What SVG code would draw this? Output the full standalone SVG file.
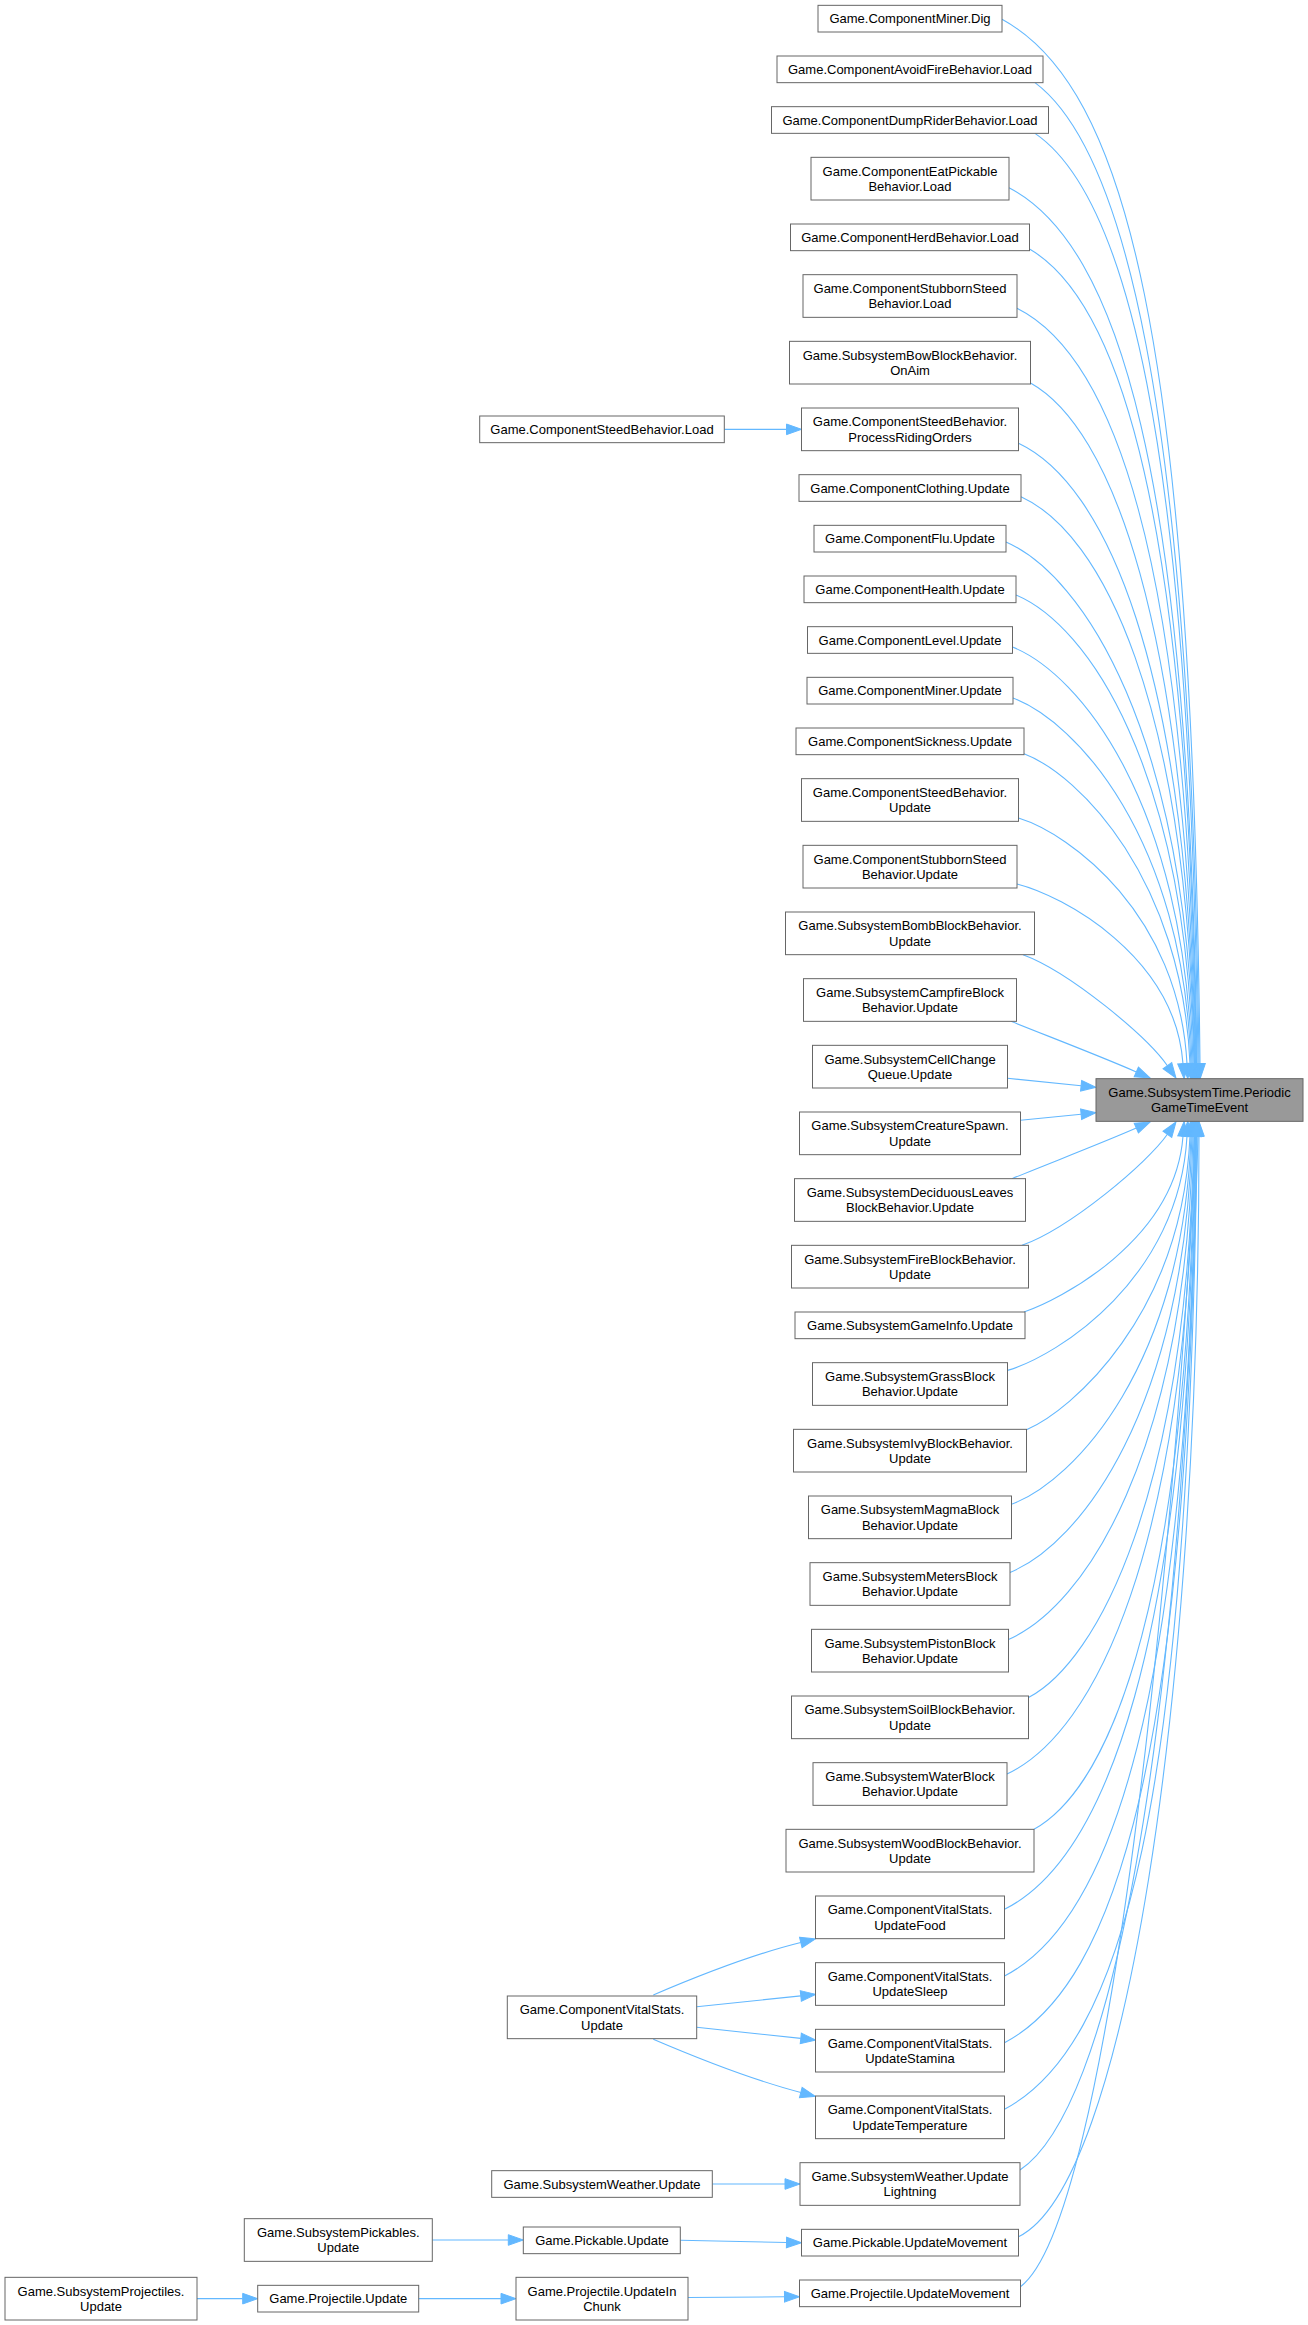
<svg xmlns="http://www.w3.org/2000/svg" width="1308" height="2325" viewBox="0 0 1308 2325">
<style>
.n rect{fill:#fff;stroke:#666;stroke-width:1}
.r rect{fill:#999;stroke:#666;stroke-width:1}
text{font-family:"Liberation Sans",Arial,Helvetica,sans-serif;font-size:13px;fill:#000;text-anchor:middle}
.e path{fill:none;stroke:#63B8FF;stroke-width:1.1;marker-end:url(#ah)}
</style>
<defs>
<marker id="ah" markerUnits="userSpaceOnUse" markerWidth="16" markerHeight="12" refX="0" refY="5.3" orient="auto" overflow="visible"><path d="M0,0 L15,5.3 L0,10.6 z" fill="#63B8FF" stroke="#63B8FF" stroke-width="1"/></marker>
</defs>
<rect width="1308" height="2325" fill="#fff"/>
<g id="edges" class="e">
<path d="M1002,19.3 C1126,87.2 1192,337.8 1200,1063.67"/>
<path d="M1035,82.67 C1120,146.5 1191,388.7 1199,1063.67"/>
<path d="M1035,133.33 C1123.7,193.8 1190,428.7 1198,1063.67"/>
<path d="M1009,187.7 C1117.8,244.6 1189,471.1 1197,1063.67"/>
<path d="M1029.5,249 C1120.5,302 1188.5,517.9 1196.5,1063.67"/>
<path d="M1017,308.3 C1115,357.4 1188,562.7 1196,1063.67"/>
<path d="M1030.5,383 C1109.8,427.2 1187.5,617.8 1195.5,1063.67"/>
<path d="M1018.5,443.3 C1104.3,483.6 1187,661.5 1195,1063.67"/>
<path d="M1021,496.7 C1102,533.6 1186.5,699.4 1194.5,1063.67"/>
<path d="M1006,542 C1083,575.9 1186,731.1 1194,1063.67"/>
<path d="M1016,595 C1088.2,625.5 1185,767.5 1193,1063.67"/>
<path d="M1012.5,647 C1080,674.1 1184,802.8 1192,1063.67"/>
<path d="M1013,698 C1075.9,721.8 1183,836.9 1191,1063.67"/>
<path d="M1024,753.8 C1080,775 1182,880 1190,1063.67"/>
<path d="M1018.5,818 C1070.6,834 1179,914.6 1187,1063.67"/>
<path d="M1017,884 C1063.2,895.7 1175,955.9 1183,1063.67"/>
<path d="M1023,954.67 C1070,972 1147.4,1037 1167.4,1065.7"/>
<path d="M1011,1021.33 C1050,1037 1100,1056 1136.3,1071.9"/>
<path d="M1007.5,1078.3 C1035,1081 1060,1083.6 1081.1,1085.8"/>
<path d="M1020.5,1120.3 C1045,1117.8 1065,1115.8 1081.1,1114.2"/>
<path d="M1012,1178.67 C1050,1163 1100,1144 1136.3,1128.1"/>
<path d="M1022,1245.33 C1070,1228 1147.4,1163 1167.4,1134.3"/>
<path d="M1024,1312 C1057.8,1300.6 1175,1241.5 1183,1136.33"/>
<path d="M1007.5,1370.4 C1058.8,1355.2 1179,1278.2 1187,1136.33"/>
<path d="M1026.5,1429.7 C1070.9,1410.6 1182,1315.9 1190,1136.33"/>
<path d="M1011.5,1504.3 C1075.1,1480.4 1183,1364.6 1191,1136.33"/>
<path d="M1010,1572.4 C1079.7,1544.1 1184,1410.2 1192,1136.33"/>
<path d="M1008.5,1639.4 C1084.3,1606.7 1185,1456 1193,1136.33"/>
<path d="M1028.5,1697.6 C1097.5,1661.1 1186,1496.6 1194,1136.33"/>
<path d="M1007,1774.1 C1094.9,1732.6 1186.5,1551.1 1194.5,1136.33"/>
<path d="M1034,1829.33 C1114.4,1784.3 1187,1590.9 1195,1136.33"/>
<path d="M1004.5,1909.3 C1104.6,1859.1 1187.5,1650.3 1195.5,1136.33"/>
<path d="M1004.5,1976 C1110.6,1921.4 1188,1701 1196,1136.33"/>
<path d="M1004.5,2042.7 C1116.6,1983.8 1188.5,1752.5 1196.5,1136.33"/>
<path d="M1004.5,2109.3 C1122.6,2046.1 1189,1804.8 1197,1136.33"/>
<path d="M1020,2170 C1110,2110 1180,1760 1198,1136.33"/>
<path d="M1018.5,2236.7 C1125,2185 1199,1700 1199,1136.33"/>
<path d="M1020.5,2286.7 C1110,2220 1175,1550 1196,1136.33"/>
<path d="M724.3,429.33 L786.5,429.33"/>
<path d="M653.3,1995 C700,1975 750,1955 800.8,1942.5"/>
<path d="M696.7,2006.7 L800.8,1995.9"/>
<path d="M696.7,2027.3 L800.8,2038.4"/>
<path d="M653.3,2039.3 C700,2059.3 750,2079.3 800.8,2092.5"/>
<path d="M712.3,2184 L785,2184"/>
<path d="M680.3,2240.3 L786.5,2242.5"/>
<path d="M688,2297.5 L784.5,2296.8"/>
<path d="M432.3,2240 L508.3,2240"/>
<path d="M197,2298.67 L242.7,2298.67"/>
<path d="M418.7,2298.67 L501,2298.67"/>
</g>
<g id="target" class="r"><rect x="1096" y="1078.67" width="207" height="42.67"/><text x="1199.5" y="1097">Game.SubsystemTime.Periodic</text><text x="1199.5" y="1112.3">GameTimeEvent</text></g>
<g id="n1" class="n"><rect x="818" y="5.33" width="184" height="26.67"/><text x="910" y="23.3">Game.ComponentMiner.Dig</text></g>
<g id="n2" class="n"><rect x="777" y="56" width="266" height="26.67"/><text x="910" y="74">Game.ComponentAvoidFireBehavior.Load</text></g>
<g id="n3" class="n"><rect x="771.5" y="106.67" width="277" height="26.67"/><text x="910" y="124.7">Game.ComponentDumpRiderBehavior.Load</text></g>
<g id="n4" class="n"><rect x="811" y="157.33" width="198" height="42.67"/><text x="910" y="175.6">Game.ComponentEatPickable</text><text x="910" y="190.9">Behavior.Load</text></g>
<g id="n5" class="n"><rect x="790.5" y="224" width="239" height="26.67"/><text x="910" y="242">Game.ComponentHerdBehavior.Load</text></g>
<g id="n6" class="n"><rect x="803" y="274.67" width="214" height="42.67"/><text x="910" y="293">Game.ComponentStubbornSteed</text><text x="910" y="308.3">Behavior.Load</text></g>
<g id="n7" class="n"><rect x="789.5" y="341.33" width="241" height="42.67"/><text x="910" y="359.6">Game.SubsystemBowBlockBehavior.</text><text x="910" y="374.9">OnAim</text></g>
<g id="n8" class="n"><rect x="801.5" y="408" width="217" height="42.67"/><text x="910" y="426.3">Game.ComponentSteedBehavior.</text><text x="910" y="441.6">ProcessRidingOrders</text></g>
<g id="n9" class="n"><rect x="799" y="474.67" width="222" height="26.67"/><text x="910" y="492.7">Game.ComponentClothing.Update</text></g>
<g id="n10" class="n"><rect x="814" y="525.33" width="192" height="26.67"/><text x="910" y="543.3">Game.ComponentFlu.Update</text></g>
<g id="n11" class="n"><rect x="804" y="576" width="212" height="26.67"/><text x="910" y="594">Game.ComponentHealth.Update</text></g>
<g id="n12" class="n"><rect x="807.5" y="626.67" width="205" height="26.67"/><text x="910" y="644.7">Game.ComponentLevel.Update</text></g>
<g id="n13" class="n"><rect x="807" y="677.33" width="206" height="26.67"/><text x="910" y="695.3">Game.ComponentMiner.Update</text></g>
<g id="n14" class="n"><rect x="796" y="728" width="228" height="26.67"/><text x="910" y="746">Game.ComponentSickness.Update</text></g>
<g id="n15" class="n"><rect x="801.5" y="778.67" width="217" height="42.67"/><text x="910" y="797">Game.ComponentSteedBehavior.</text><text x="910" y="812.3">Update</text></g>
<g id="n16" class="n"><rect x="803" y="845.33" width="214" height="42.67"/><text x="910" y="863.6">Game.ComponentStubbornSteed</text><text x="910" y="878.9">Behavior.Update</text></g>
<g id="n17" class="n"><rect x="785.5" y="912" width="249" height="42.67"/><text x="910" y="930.3">Game.SubsystemBombBlockBehavior.</text><text x="910" y="945.6">Update</text></g>
<g id="n18" class="n"><rect x="803.5" y="978.67" width="213" height="42.67"/><text x="910" y="997">Game.SubsystemCampfireBlock</text><text x="910" y="1012.3">Behavior.Update</text></g>
<g id="n19" class="n"><rect x="812.5" y="1045.33" width="195" height="42.67"/><text x="910" y="1063.6">Game.SubsystemCellChange</text><text x="910" y="1078.9">Queue.Update</text></g>
<g id="n20" class="n"><rect x="799.5" y="1112" width="221" height="42.67"/><text x="910" y="1130.3">Game.SubsystemCreatureSpawn.</text><text x="910" y="1145.6">Update</text></g>
<g id="n21" class="n"><rect x="794.5" y="1178.67" width="231" height="42.67"/><text x="910" y="1197">Game.SubsystemDeciduousLeaves</text><text x="910" y="1212.3">BlockBehavior.Update</text></g>
<g id="n22" class="n"><rect x="791.5" y="1245.33" width="237" height="42.67"/><text x="910" y="1263.6">Game.SubsystemFireBlockBehavior.</text><text x="910" y="1278.9">Update</text></g>
<g id="n23" class="n"><rect x="795" y="1312" width="230" height="26.67"/><text x="910" y="1330">Game.SubsystemGameInfo.Update</text></g>
<g id="n24" class="n"><rect x="812.5" y="1362.67" width="195" height="42.67"/><text x="910" y="1381">Game.SubsystemGrassBlock</text><text x="910" y="1396.3">Behavior.Update</text></g>
<g id="n25" class="n"><rect x="793.5" y="1429.33" width="233" height="42.67"/><text x="910" y="1447.6">Game.SubsystemIvyBlockBehavior.</text><text x="910" y="1462.9">Update</text></g>
<g id="n26" class="n"><rect x="808.5" y="1496" width="203" height="42.67"/><text x="910" y="1514.3">Game.SubsystemMagmaBlock</text><text x="910" y="1529.6">Behavior.Update</text></g>
<g id="n27" class="n"><rect x="810" y="1562.67" width="200" height="42.67"/><text x="910" y="1581">Game.SubsystemMetersBlock</text><text x="910" y="1596.3">Behavior.Update</text></g>
<g id="n28" class="n"><rect x="811.5" y="1629.33" width="197" height="42.67"/><text x="910" y="1647.6">Game.SubsystemPistonBlock</text><text x="910" y="1662.9">Behavior.Update</text></g>
<g id="n29" class="n"><rect x="791.5" y="1696" width="237" height="42.67"/><text x="910" y="1714.3">Game.SubsystemSoilBlockBehavior.</text><text x="910" y="1729.6">Update</text></g>
<g id="n30" class="n"><rect x="813" y="1762.67" width="194" height="42.67"/><text x="910" y="1781">Game.SubsystemWaterBlock</text><text x="910" y="1796.3">Behavior.Update</text></g>
<g id="n31" class="n"><rect x="786" y="1829.33" width="248" height="42.67"/><text x="910" y="1847.6">Game.SubsystemWoodBlockBehavior.</text><text x="910" y="1862.9">Update</text></g>
<g id="n32" class="n"><rect x="815.5" y="1896" width="189" height="42.67"/><text x="910" y="1914.3">Game.ComponentVitalStats.</text><text x="910" y="1929.6">UpdateFood</text></g>
<g id="n33" class="n"><rect x="815.5" y="1962.67" width="189" height="42.67"/><text x="910" y="1981">Game.ComponentVitalStats.</text><text x="910" y="1996.3">UpdateSleep</text></g>
<g id="n34" class="n"><rect x="815.5" y="2029.33" width="189" height="42.67"/><text x="910" y="2047.6">Game.ComponentVitalStats.</text><text x="910" y="2062.9">UpdateStamina</text></g>
<g id="n35" class="n"><rect x="815.5" y="2096" width="189" height="42.67"/><text x="910" y="2114.3">Game.ComponentVitalStats.</text><text x="910" y="2129.6">UpdateTemperature</text></g>
<g id="n36" class="n"><rect x="800" y="2162.67" width="220" height="42.67"/><text x="910" y="2181">Game.SubsystemWeather.Update</text><text x="910" y="2196.3">Lightning</text></g>
<g id="n37" class="n"><rect x="801.5" y="2229.33" width="217" height="26.67"/><text x="910" y="2247.3">Game.Pickable.UpdateMovement</text></g>
<g id="n38" class="n"><rect x="799.5" y="2280" width="221" height="26.67"/><text x="910" y="2298">Game.Projectile.UpdateMovement</text></g>
<g id="n39" class="n"><rect x="479.7" y="416" width="244.6" height="26.67"/><text x="602" y="434">Game.ComponentSteedBehavior.Load</text></g>
<g id="n40" class="n"><rect x="507.3" y="1996" width="189.4" height="42.67"/><text x="602" y="2014.3">Game.ComponentVitalStats.</text><text x="602" y="2029.6">Update</text></g>
<g id="n41" class="n"><rect x="491.7" y="2170.67" width="220.6" height="26.67"/><text x="602" y="2188.7">Game.SubsystemWeather.Update</text></g>
<g id="n42" class="n"><rect x="523.3" y="2227" width="157" height="26.67"/><text x="602" y="2245">Game.Pickable.Update</text></g>
<g id="n43" class="n"><rect x="516" y="2277.33" width="172" height="42.67"/><text x="602" y="2295.6">Game.Projectile.UpdateIn</text><text x="602" y="2310.9">Chunk</text></g>
<g id="n44" class="n"><rect x="244.3" y="2218.67" width="188" height="42.67"/><text x="338.3" y="2237">Game.SubsystemPickables.</text><text x="338.3" y="2252.3">Update</text></g>
<g id="n45" class="n"><rect x="257.7" y="2285.33" width="161" height="26.67"/><text x="338.3" y="2303.3">Game.Projectile.Update</text></g>
<g id="n46" class="n"><rect x="5" y="2277.33" width="192" height="42.67"/><text x="101" y="2295.6">Game.SubsystemProjectiles.</text><text x="101" y="2310.9">Update</text></g>
</svg>
